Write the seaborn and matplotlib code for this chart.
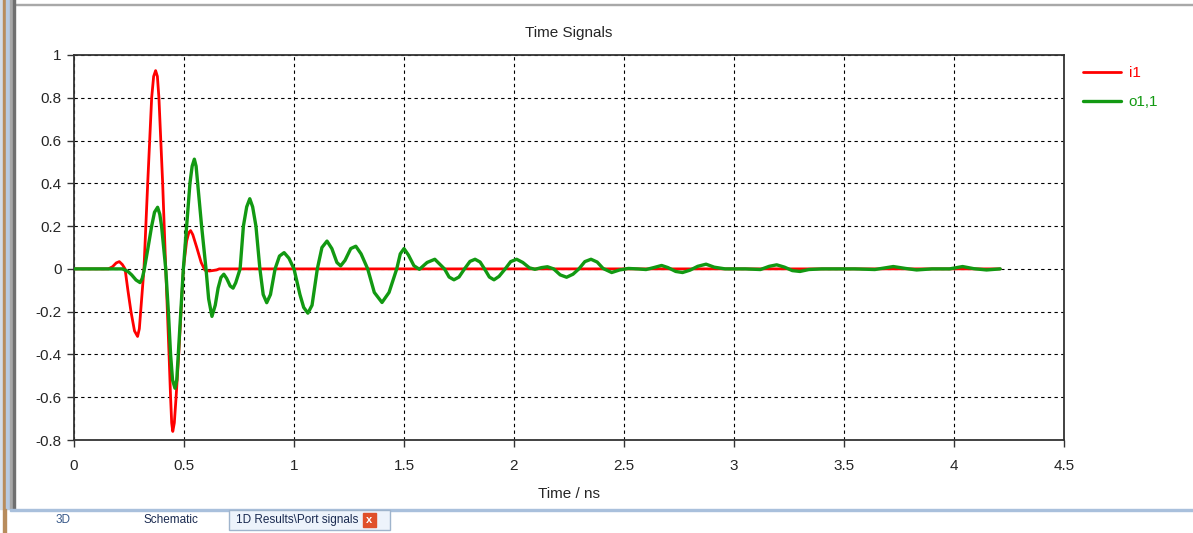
import pandas as pd
import seaborn as sns
import matplotlib.pyplot as plt
from matplotlib.patches import Rectangle

# values (time in ns)
i1_time = [0.0, 0.156, 0.175, 0.192, 0.206, 0.220, 0.232, 0.245, 0.259, 0.275,
           0.289, 0.297, 0.303, 0.318, 0.335, 0.353, 0.362, 0.371, 0.379, 0.386,
           0.403, 0.417, 0.432, 0.439, 0.444, 0.449, 0.456, 0.464, 0.476, 0.497,
           0.512, 0.522, 0.530, 0.540, 0.558, 0.578, 0.595, 0.615, 0.648, 0.660,
           4.21]
i1_value = [0.0, 0.0, 0.010, 0.028, 0.034, 0.020, 0.0, -0.10, -0.20, -0.29,
            -0.316, -0.28, -0.20, 0.0, 0.40, 0.80, 0.90, 0.927, 0.90, 0.80,
            0.40, 0.0, -0.40, -0.60, -0.72, -0.76, -0.72, -0.60, -0.40, 0.0,
            0.13, 0.17, 0.179, 0.16, 0.10, 0.03, -0.006, -0.010, -0.005, 0.0,
            0.0]

o11_time = [0.0, 0.22, 0.245, 0.262, 0.282, 0.300, 0.310, 0.318, 0.335, 0.353,
            0.366, 0.380, 0.390, 0.398, 0.417, 0.429, 0.439, 0.448, 0.459, 0.467,
            0.474, 0.486, 0.497, 0.512, 0.527, 0.537, 0.547, 0.555, 0.562, 0.580,
            0.600, 0.612, 0.627, 0.642, 0.655, 0.668, 0.681, 0.694, 0.710, 0.723,
            0.735, 0.755, 0.770, 0.785, 0.799, 0.812, 0.827, 0.845, 0.860, 0.876,
            0.893, 0.914, 0.934, 0.955, 0.977, 1.000, 1.027, 1.044, 1.063, 1.082,
            1.106, 1.127, 1.150, 1.172, 1.195, 1.212, 1.232, 1.258, 1.281, 1.305,
            1.335, 1.365, 1.400, 1.432, 1.467, 1.483, 1.500, 1.520, 1.545, 1.570,
            1.605, 1.640, 1.684, 1.705, 1.727, 1.750, 1.775, 1.800, 1.823, 1.846,
            1.866, 1.888, 1.909, 1.932, 1.960, 1.985, 2.012, 2.040, 2.070, 2.095,
            2.125, 2.152, 2.180, 2.210, 2.239, 2.268, 2.295, 2.322, 2.350, 2.378,
            2.405, 2.444, 2.480, 2.520, 2.560, 2.600, 2.635, 2.671, 2.700, 2.735,
            2.766, 2.800, 2.835, 2.873, 2.910, 2.960, 3.050, 3.120, 3.160, 3.194,
            3.230, 3.265, 3.300, 3.340, 3.400, 3.550, 3.640, 3.724, 3.780, 3.830,
            3.900, 3.980, 4.039, 4.090, 4.148, 4.21]
o11_value = [0.0, 0.0, -0.012, -0.028, -0.052, -0.064, -0.045, -0.010, 0.09, 0.20,
             0.265, 0.288, 0.255, 0.20, 0.0, -0.20, -0.40, -0.52, -0.558, -0.52,
             -0.40, -0.20, 0.0, 0.20, 0.40, 0.48, 0.513, 0.48, 0.40, 0.20,
             0.0, -0.14, -0.222, -0.17, -0.09, -0.04, -0.025, -0.045, -0.08, -0.09,
             -0.065, 0.0, 0.20, 0.29, 0.328, 0.29, 0.20, 0.0, -0.12, -0.158,
             -0.12, 0.0, 0.06, 0.076, 0.05, 0.0, -0.12, -0.18, -0.207, -0.17,
             0.0, 0.10, 0.13, 0.095, 0.03, 0.014, 0.04, 0.095, 0.106, 0.07,
             0.0, -0.11, -0.157, -0.11, 0.0, 0.07, 0.095, 0.065, 0.015, -0.002,
             0.03, 0.045, 0.0, -0.038, -0.051, -0.038, 0.0, 0.035, 0.045, 0.032,
             0.0, -0.038, -0.051, -0.035, 0.0, 0.034, 0.045, 0.03, 0.005, -0.002,
             0.006, 0.010, 0.0, -0.028, -0.039, -0.025, 0.0, 0.034, 0.045, 0.032,
             0.002, -0.017, -0.005, 0.002, 0.0, -0.003, 0.006, 0.016, 0.006, -0.012,
             -0.017, -0.006, 0.012, 0.022, 0.008, 0.0, 0.0, -0.003, 0.012, 0.019,
             0.008, -0.008, -0.012, -0.003, 0.0, 0.0, -0.003, 0.011, 0.002, -0.005,
             0.0, 0.0, 0.011, 0.001, -0.005, 0.0]

signal_names = ["i1", "o1,1"]
x_ticks = [0, 0.5, 1, 1.5, 2, 2.5, 3, 3.5, 4, 4.5]
x_labels = ["0", "0.5", "1", "1.5", "2", "2.5", "3", "3.5", "4", "4.5"]
y_ticks = [-0.8, -0.6, -0.4, -0.2, 0, 0.2, 0.4, 0.6, 0.8, 1]
y_labels = ["-0.8", "-0.6", "-0.4", "-0.2", "0", "0.2", "0.4", "0.6", "0.8", "1"]

df = pd.concat([
    pd.DataFrame({"time": i1_time, "value": i1_value, "signal": signal_names[0]}),
    pd.DataFrame({"time": o11_time, "value": o11_value, "signal": signal_names[1]}),
], ignore_index=True)

sns.set_style("white")
plt.rcParams["font.family"] = ["Liberation Sans", "DejaVu Sans"]
plt.rcParams["font.size"] = 11

W, H = 1193, 533
fig = plt.figure(figsize=(W / 100, H / 100), dpi=100)
ax = fig.add_axes([74 / W, 1 - 440 / H, 990 / W, 385 / H])

sns.lineplot(data=df, x="time", y="value", hue="signal", sort=False,
             estimator=None, palette={"i1": "#ff0000", "o1,1": "#129912"},
             linewidth=2, ax=ax)
# green drawn on top and a bit heavier, as in the reference
lines = ax.get_lines()
lines[0].set_zorder(2)
lines[1].set_zorder(3)
lines[1].set_linewidth(2.4)

ax.set_xlim(0, 4.5)
ax.set_ylim(-0.8, 1)
ax.set_xticks(x_ticks)
ax.set_xticklabels(x_labels)
ax.set_yticks(y_ticks)
ax.set_yticklabels(y_labels)
ax.tick_params(direction="out", length=5, width=1, color="#333333",
               labelsize=11, bottom=True, left=True)
ax.tick_params(axis="x", pad=9)
ax.tick_params(axis="y", pad=4)
ax.grid(True, color="black", linestyle=(0, (3, 3)), linewidth=0.8)
ax.set_axisbelow(True)
for sp in ax.spines.values():
    sp.set_color("#333333")
    sp.set_linewidth(1.3)

ax.set_xlabel("Time / ns", fontsize=11, labelpad=10)
ax.set_ylabel("")
fig.text(569 / W, 1 - 33 / H, "Time Signals", ha="center", va="center",
         fontsize=11)

leg = ax.legend(loc="upper left", bbox_to_anchor=(1083 / W, 1 - 66 / H),
                bbox_transform=fig.transFigure, frameon=False, borderpad=0,
                borderaxespad=0, handlelength=2.5, handletextpad=0.5,
                labelspacing=1.0, labelcolor="linecolor", fontsize=11)
leg.get_lines()[1].set_linewidth(2.4)

# window frame pieces seen in the screenshot
fig.patches.append(Rectangle((15 / W, 1 - 5 / H), 1, 1.5 / H,
                             transform=fig.transFigure, color="#a8a8a8"))
for x0, w, c in [(0, 3.3, "#d4dde8"), (3.3, 2.7, "#b88c5c"), (6, 3.5, "#b8cae0"),
                 (9.5, 3, "#a8a8a8"), (12.5, 2, "#707070")]:
    fig.patches.append(Rectangle((x0 / W, 24 / H), w / W, 1,
                                 transform=fig.transFigure, color=c))
fig.patches.append(Rectangle((3.3 / W, 0), 2.7 / W, 24 / H,
                             transform=fig.transFigure, color="#b88c5c"))
fig.patches.append(Rectangle((10 / W, 22.5 / H), 1, 2 / H,
                             transform=fig.transFigure, color="#a9c0dc"))
fig.patches.append(Rectangle((229 / W, 3 / H), 161 / W, 20 / H,
                             transform=fig.transFigure, facecolor="#edf3fb",
                             edgecolor="#9fb4cc", linewidth=1))
fig.patches.append(Rectangle((363 / W, 6 / H), 13 / W, 14 / H,
                             transform=fig.transFigure, color="#e0502a"))
fig.text(369.5 / W, 13 / H, "x", ha="center", va="center", fontsize=8,
         color="white", fontweight="bold")
for tx, label, c in [(63, "3D", "#3a5a8a"), (171, "Schematic", "#1a2a50"),
                     (297, "1D Results\\Port signals", "#1a2a50")]:
    fig.text(tx / W, 13 / H, label, ha="center", va="center", fontsize=8.5,
             color=c)

plt.savefig("out.png", dpi=100)
